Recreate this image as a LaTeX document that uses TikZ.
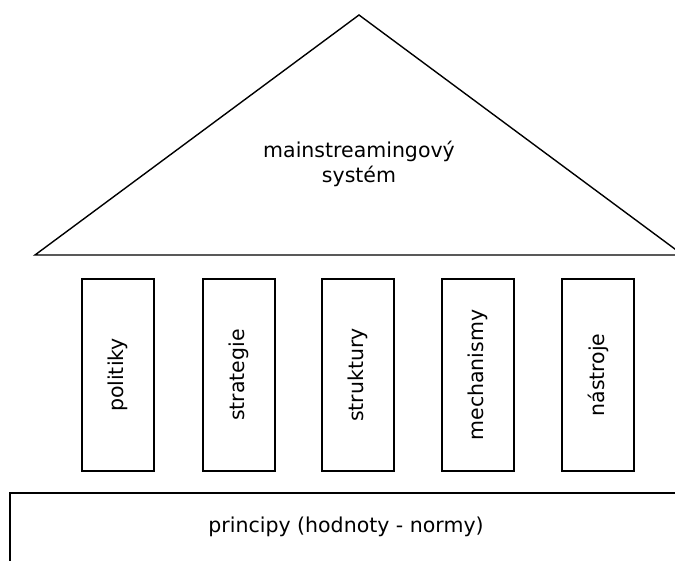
\documentclass[tikz,border=0pt]{standalone}
\usepackage{fontspec}
\setmainfont{DejaVu Sans}
\begin{document}
\begin{tikzpicture}[x=1pt,y=-1pt,
  pillar/.style={draw,line width=1.4pt,minimum width=72pt,minimum height=192pt,inner sep=0pt},
  lbl/.style={font=\fontsize{20.5}{25}\selectfont,align=center,inner sep=0pt},
  ln/.style={line width=1.4pt}]
\clip (0,0) rectangle (675,561);
\fill[white] (0,0) rectangle (675,561);
\coordinate (apex) at (359,15);
\coordinate (bl) at (35,255);
\coordinate (br) at (683,255);
\draw[ln,line join=miter] (bl) -- (apex) -- (br) -- cycle;
\node[lbl] (roof) at (359,164) {mainstreamingový\\systém};
\node[pillar] (p1) at (118,375) {};
\node[pillar] (p2) at (239,375) {};
\node[pillar] (p3) at (358,375) {};
\node[pillar] (p4) at (478,375) {};
\node[pillar] (p5) at (598,375) {};
\node[lbl,rotate=90] at (p1.center) {politiky};
\node[lbl,rotate=90] at (p2.center) {strategie};
\node[lbl,rotate=90] at (p3.center) {struktury};
\node[lbl,rotate=90] at (p4.center) {mechanismy};
\node[lbl,rotate=90] at (p5.center) {nástroje};
\draw[ln] (10,493) rectangle (700,600);
\node[lbl] (base) at (346,527) {principy (hodnoty - normy)};
\end{tikzpicture}
\end{document}
